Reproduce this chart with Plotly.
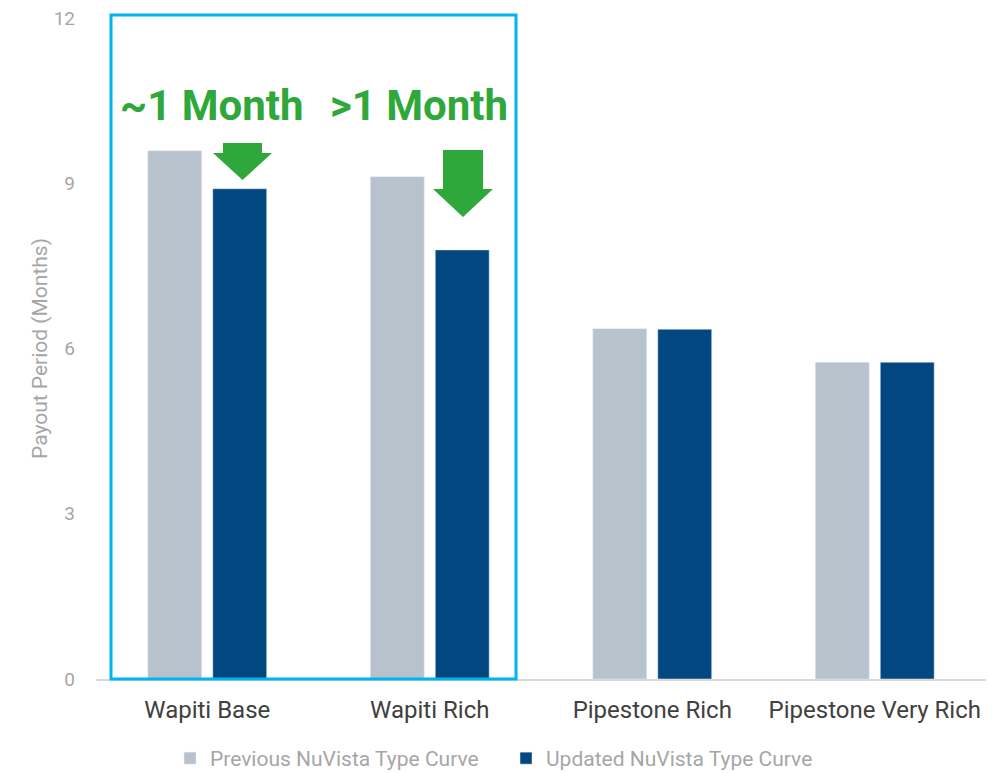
import plotly.graph_objects as go

categories = ["Wapiti Base", "Wapiti Rich", "Pipestone Rich", "Pipestone Very Rich"]
previous = [9.59, 9.12, 6.36, 5.75]
updated = [8.90, 7.79, 6.35, 5.75]
series_names = ["Previous NuVista Type Curve", "Updated NuVista Type Curve"]
y_ticks = [0, 3, 6, 9, 12]
callouts = ["~1 Month", ">1 Month"]

# page has an 8px body margin; figure sized to fit the window
OFF = 8
W, H = 1007 - OFF, 773 - OFF
# target plot area in window pixels: x 96..986, y 18..679
PL, PR, PT, PB = 96, 986, 18, 679
ML, MT = PL - OFF, PT - OFF
MR = W - (PR - OFF)
MB = H - (PB - OFF)
PW = PR - PL
PH = PB - PT
YMAX = 12


def px_x(p):
    return (p - PL) / PW


def px_y(p):
    return (PB - p) / PH


fig = go.Figure()
fig.add_trace(go.Bar(x=categories, y=previous, name=series_names[0],
                     marker_color="#B8C2CC"))
fig.add_trace(go.Bar(x=categories, y=updated, name=series_names[1],
                     marker_color="#02477F"))

green = "#2EA83A"
# highlight box
fig.add_shape(type="rect", xref="paper", yref="paper",
              x0=px_x(111), x1=px_x(516), y0=px_y(679), y1=px_y(15),
              line=dict(color="#00B4EC", width=3), fillcolor="rgba(0,0,0,0)",
              layer="above")


def arrow(sx0, sx1, sy0, hy, hx0, hx1, tip):
    xm = (hx0 + hx1) / 2
    pts = [(sx0, sy0), (sx1, sy0), (sx1, hy), (hx1, hy), (xm, tip),
           (hx0, hy), (sx0, hy)]
    path = "M " + " L ".join(f"{px_x(a):.5f},{px_y(b):.5f}" for a, b in pts) + " Z"
    fig.add_shape(type="path", xref="paper", yref="paper", path=path,
                  fillcolor=green, line=dict(width=0), layer="above")


arrow(223, 262, 143, 153, 213, 272, 180)
arrow(443, 483, 150, 189, 433, 493, 217)

fig.add_annotation(x=px_x(212), y=px_y(106), xref="paper", yref="paper",
                   text="<b>" + callouts[0] + "</b>", showarrow=False,
                   xanchor="center", yanchor="middle",
                   font=dict(family="Roboto", size=42, color=green))
fig.add_annotation(x=px_x(419), y=px_y(106), xref="paper", yref="paper",
                   text="<b>" + callouts[1] + "</b>", showarrow=False,
                   xanchor="center", yanchor="middle",
                   font=dict(family="Roboto", size=42, color=green))

fig.update_layout(
    width=W, height=H,
    margin=dict(l=ML, r=MR, t=MT, b=MB, autoexpand=False),
    paper_bgcolor="white", plot_bgcolor="white",
    font=dict(family="Roboto", color="#A6A6A6"),
    barmode="group", bargap=0.416, bargroupgap=0.17,
    legend=dict(orientation="h", x=px_x(170), xanchor="left", y=px_y(738),
                yanchor="top", font=dict(size=21, color="#A6A6A6"),
                entrywidth=291, traceorder="normal"),
    showlegend=True,
)
fig.update_xaxes(showline=True, linecolor="#D9D9D9", linewidth=1.5,
                 tickfont=dict(size=24, color="#404040"), ticks="",
                 ticklabelstandoff=8,
                 showgrid=False, automargin=False)
fig.update_yaxes(range=[0, YMAX], tickvals=y_ticks, showgrid=False,
                 zeroline=False, showline=False, automargin=False,
                 tickfont=dict(size=19, color="#A6A6A6"), ticklen=0,
                 ticklabelstandoff=20, ticklabeloverflow="allow",
                 title=dict(text="Payout Period (Months)",
                            font=dict(size=21, color="#A6A6A6"), standoff=0))

fig.write_html("out.html")
